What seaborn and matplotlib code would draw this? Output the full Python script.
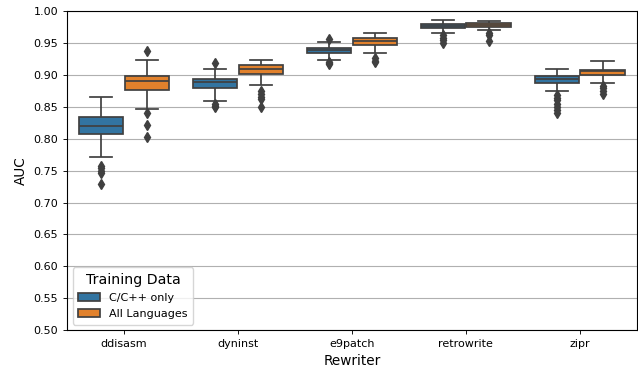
import matplotlib
matplotlib.use("Agg")
import matplotlib.pyplot as plt
import seaborn as sns
import pandas as pd

rewriters = ["ddisasm", "dyninst", "e9patch", "retrowrite", "zipr"]
training = ["C/C++ only", "All Languages"]

ddisasm_c = [0.729, 0.746, 0.750, 0.754, 0.757, 0.772, 0.8075, 0.810, 0.812, 0.814,
             0.816, 0.818, 0.820, 0.822, 0.825, 0.827, 0.830, 0.832, 0.8345, 0.838,
             0.842, 0.847, 0.852, 0.858, 0.865]
ddisasm_a = [0.802, 0.8215, 0.841, 0.847, 0.8767, 0.882, 0.886, 0.889, 0.891, 0.893,
             0.895, 0.8965, 0.898, 0.905, 0.915, 0.924, 0.937]
dyninst_c = [0.850, 0.852, 0.855, 0.859, 0.879, 0.883, 0.886, 0.888, 0.8895, 0.891,
             0.892, 0.893, 0.8935, 0.898, 0.904, 0.910, 0.918]
dyninst_a = [0.849, 0.863, 0.866, 0.870, 0.875, 0.885, 0.9013, 0.903, 0.905, 0.906,
             0.907, 0.908, 0.9087, 0.910, 0.911, 0.912, 0.913, 0.914, 0.9155, 0.917,
             0.918, 0.919, 0.920, 0.921, 0.9228]
e9patch_c = [0.917, 0.919, 0.921, 0.924, 0.9345, 0.936, 0.937, 0.938, 0.9385, 0.939,
             0.940, 0.941, 0.9425, 0.945, 0.948, 0.952, 0.956]
e9patch_a = [0.920, 0.922, 0.926, 0.934, 0.9475, 0.950, 0.952, 0.953, 0.9538, 0.955,
             0.956, 0.957, 0.9585, 0.961, 0.963, 0.964, 0.9658]
retrowrite_c = [0.950, 0.955, 0.958, 0.962, 0.9658, 0.9735, 0.974, 0.975, 0.9755, 0.976,
                0.9765, 0.977, 0.978, 0.9785, 0.979, 0.9795, 0.981, 0.982, 0.983, 0.984,
                0.9858]
retrowrite_a = [0.953, 0.963, 0.9655, 0.970, 0.9753, 0.976, 0.977, 0.9775, 0.978, 0.979,
                0.9795, 0.980, 0.981, 0.982, 0.983, 0.984, 0.9848]
zipr_c = [0.840, 0.845, 0.850, 0.855, 0.860, 0.864, 0.868, 0.8756, 0.8871, 0.888,
          0.889, 0.890, 0.8905, 0.891, 0.892, 0.8925, 0.893, 0.8935, 0.894, 0.895,
          0.8955, 0.896, 0.897, 0.8975, 0.898, 0.900, 0.902, 0.903, 0.905, 0.906,
          0.908, 0.909, 0.9098]
zipr_a = [0.870, 0.875, 0.879, 0.883, 0.887, 0.8995, 0.901, 0.902, 0.903, 0.904,
          0.9055, 0.906, 0.907, 0.9075, 0.908, 0.9085, 0.911, 0.914, 0.916, 0.919,
          0.9213]

groups = {
    ("ddisasm", "C/C++ only"): ddisasm_c, ("ddisasm", "All Languages"): ddisasm_a,
    ("dyninst", "C/C++ only"): dyninst_c, ("dyninst", "All Languages"): dyninst_a,
    ("e9patch", "C/C++ only"): e9patch_c, ("e9patch", "All Languages"): e9patch_a,
    ("retrowrite", "C/C++ only"): retrowrite_c, ("retrowrite", "All Languages"): retrowrite_a,
    ("zipr", "C/C++ only"): zipr_c, ("zipr", "All Languages"): zipr_a,
}

rows = []
for (rw, tr), vals in groups.items():
    for v in vals:
        rows.append({"Rewriter": rw, "Training Data": tr, "AUC": v})
df = pd.DataFrame(rows)

fig, ax = plt.subplots(figsize=(6.38, 3.71), dpi=100)
fig.subplots_adjust(left=0.105, right=0.998, top=0.970, bottom=0.110)

line_c = "0.25"
sns.boxplot(data=df, x="Rewriter", y="AUC", hue="Training Data",
            order=rewriters, hue_order=training,
            palette=["#1f77b4", "#ff7f0e"], saturation=0.75,
            width=0.8, gap=0.03, linewidth=1.25, linecolor=line_c,
            flierprops={"marker": "d", "markersize": 5.5,
                        "markerfacecolor": line_c, "markeredgecolor": line_c},
            ax=ax)

ax.set_ylim(0.5, 1.0)
ax.set_yticks([0.50, 0.55, 0.60, 0.65, 0.70, 0.75, 0.80, 0.85, 0.90, 0.95, 1.00])
ax.set_yticklabels([f"{t:.2f}" for t in ax.get_yticks()])
ax.yaxis.grid(True, color="#b0b0b0", linewidth=0.8)
ax.set_axisbelow(True)
ax.tick_params(labelsize=8, length=2.8, width=0.64)
ax.set_xlabel("Rewriter", fontsize=9.8)
ax.set_ylabel("AUC", fontsize=9.8)

sns.move_legend(ax, "lower left", fontsize=8, title_fontsize=10.2,
                labelspacing=0.55, borderpad=0.5)

fig.savefig("out.png", dpi=100)
